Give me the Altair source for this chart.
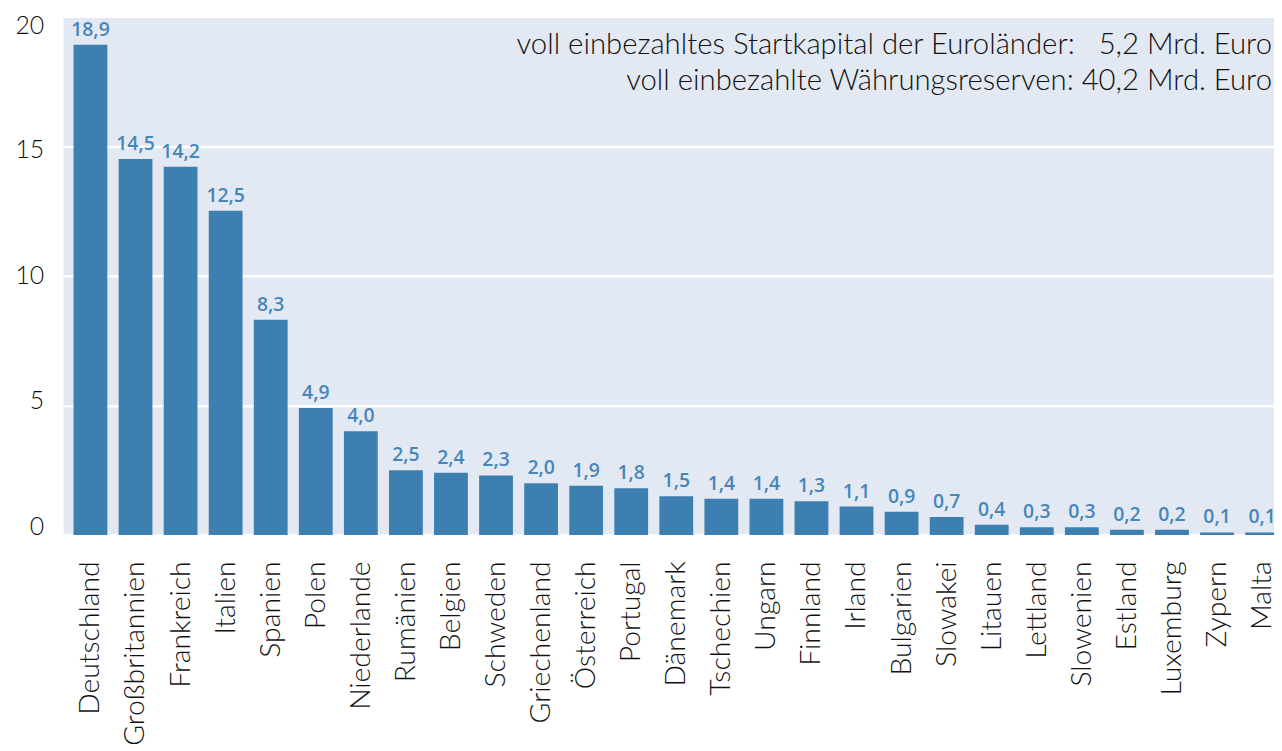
import altair as alt
import pandas as pd

countries = ["Deutschland", "Großbritannien", "Frankreich", "Italien", "Spanien", "Polen",
             "Niederlande", "Rumänien", "Belgien", "Schweden", "Griechenland", "Österreich",
             "Portugal", "Dänemark", "Tschechien", "Ungarn", "Finnland", "Irland", "Bulgarien",
             "Slowakei", "Litauen", "Lettland", "Slowenien", "Estland", "Luxemburg", "Zypern", "Malta"]
values = [18.9, 14.5, 14.2, 12.5, 8.3, 4.9, 4.0, 2.5, 2.4, 2.3, 2.0, 1.9, 1.8, 1.5, 1.4, 1.4,
          1.3, 1.1, 0.9, 0.7, 0.4, 0.3, 0.3, 0.2, 0.2, 0.1, 0.1]
y_ticks = [0, 5, 10, 15, 20]
note_lines = ["voll einbezahltes Startkapital der Euroländer:\u00a0\u00a0\u00a05,2 Mrd. Euro",
              "voll einbezahlte Währungsreserven: 40,2 Mrd. Euro"]

df = pd.DataFrame({"Land": countries, "Wert": values})
df["Label"] = [f"{v:.1f}".replace(".", ",") for v in values]

BAR = "#3D7FB0"
LBL = "#4686BA"
FONT = "Lato"

label_shift = {"condition": [
    {"test": "datum.value == 20", "value": 9},
    {"test": "datum.value == 15", "value": 4},
    {"test": "datum.value == 10", "value": 0},
    {"test": "datum.value == 5", "value": -5},
    {"test": "datum.value == 0", "value": -9},
], "value": 0}

x = alt.X("Land:N", sort=countries,
          scale=alt.Scale(range=[0, 1233], paddingInner=0.25, paddingOuter=0.22),
          axis=alt.Axis(title=None, labelAngle=270, ticks=False, domain=False, grid=False,
                        labelPadding=26, labelFontSize=28.5, labelFont=FONT, labelFontWeight=300,
                        labelColor="#111111", labelLimit=400))
y = alt.Y("Wert:Q", scale=alt.Scale(domain=[0, 20], nice=False),
          axis=alt.Axis(title=None, values=y_ticks, ticks=False, domain=False, labelPadding=20,
                        labelFontSize=25, labelFont=FONT, labelFontWeight=300, labelColor="#111111",
                        gridColor="white", gridWidth=2.5, gridOpacity=1,
                        labelOffset=label_shift))

base = alt.Chart(df)
bars = base.mark_bar(color=BAR).encode(x=x, y=y)
labels = base.mark_text(baseline="alphabetic", dy=-9, font="Open Sans", fontWeight=600,
                        fontSize=19.5, color=LBL).encode(x=x, y=y, text="Label:N")

note1 = alt.Chart(pd.DataFrame({"t": [note_lines[0]]})).mark_text(
    align="right", baseline="alphabetic", font=FONT, fontWeight=300, fontSize=29.5, color="#111111"
).encode(text="t:N", x=alt.value(1216), y=alt.value(38))
note2 = alt.Chart(pd.DataFrame({"t": [note_lines[1]]})).mark_text(
    align="right", baseline="alphabetic", font=FONT, fontWeight=300, fontSize=29.5, color="#111111"
).encode(text="t:N", x=alt.value(1216), y=alt.value(74))

chart = alt.layer(bars, labels, note1, note2).properties(
    width=1218, height=522,
    padding={"left": 56, "top": 6, "right": 0, "bottom": 220},
    autosize=alt.AutoSizeParams(type="none"),
).configure_view(strokeWidth=0, fill="#E3E9F3")

chart.save("out.html", embed_options={"renderer": "svg", "actions": False})
